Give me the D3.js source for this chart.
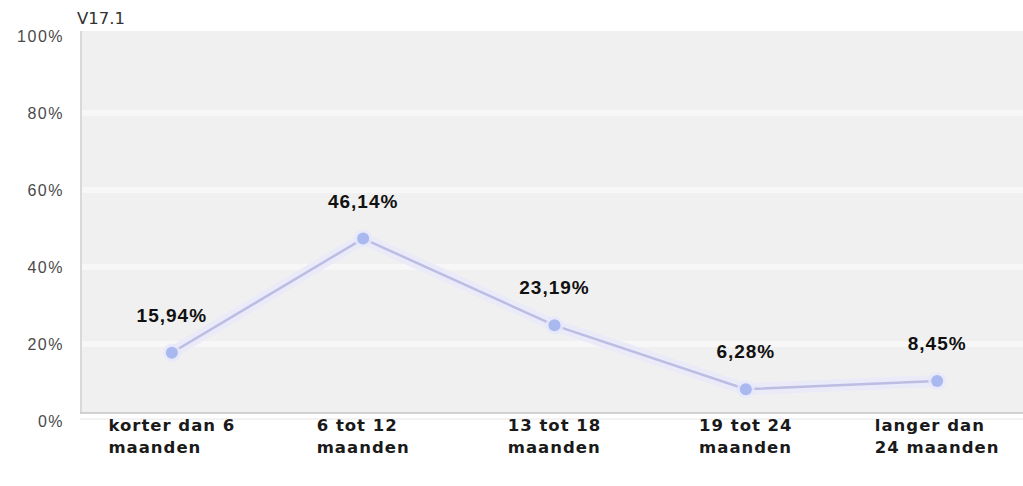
<!DOCTYPE html>
<html>
<head>
<meta charset="utf-8">
<script src="https://cdn.jsdelivr.net/npm/d3@7"></script>
<style>
  body { margin: 0; background: #fff; }
  svg { display: block; }
</style>
</head>
<body>
<svg width="1023" height="486"></svg>
<script>
// chart data
var categories = [
  ["korter dan 6", "maanden"],
  ["6 tot 12", "maanden"],
  ["13 tot 18", "maanden"],
  ["19 tot 24", "maanden"],
  ["langer dan", "24 maanden"]
];
var values = [15.94, 46.14, 23.19, 6.28, 8.45];
var valueLabels = ["15,94%", "46,14%", "23,19%", "6,28%", "8,45%"];
var yTicks = [0, 20, 40, 60, 80, 100];
var title = "V17.1";

var svg = d3.select("svg"),
    width = +svg.attr("width"),
    height = +svg.attr("height");

var plotLeft = 80, plotRight = width, plotTop = 31, plotBottom = 413;

var x = d3.scalePoint()
    .domain(d3.range(values.length))
    .range([plotLeft, plotRight + 6])
    .padding(0.48);

// the marks sit on a slightly different baseline than the gridlines in the original
var y = d3.scaleLinear().domain([0, 100]).range([plotBottom, 35]);
var yGrid = d3.scaleLinear().domain([0, 100]).range([421, 36]);

svg.append("text")
    .attr("x", 77)
    .attr("y", 24)
    .attr("font-family", "DejaVu Sans")
    .attr("font-size", 16.5)
    .attr("fill", "#333")
    .text(title);

// plot background
svg.append("rect")
    .attr("x", plotLeft)
    .attr("y", plotTop)
    .attr("width", plotRight - plotLeft)
    .attr("height", plotBottom - plotTop)
    .attr("fill", "#f0f0f0");

svg.append("line")
    .attr("x1", plotLeft + 1).attr("x2", plotLeft + 1)
    .attr("y1", plotTop).attr("y2", plotBottom)
    .attr("stroke", "#d9d9d9")
    .attr("stroke-width", 2);

// gridlines (lighter bands)
svg.append("g")
    .selectAll("line")
    .data(yTicks.filter(function(d) { return d > 0 && d < 100; }))
    .enter().append("line")
    .attr("x1", plotLeft + 2)
    .attr("x2", plotRight)
    .attr("y1", function(d) { return yGrid(d); })
    .attr("y2", function(d) { return yGrid(d); })
    .attr("stroke", "#f7f7f7")
    .attr("stroke-width", 6);

svg.append("line")
    .attr("x1", plotLeft).attr("x2", plotRight)
    .attr("y1", plotBottom).attr("y2", plotBottom)
    .attr("stroke", "#c4c4c4")
    .attr("stroke-width", 1.5);
svg.append("line")
    .attr("x1", plotLeft).attr("x2", plotRight)
    .attr("y1", plotBottom + 6).attr("y2", plotBottom + 6)
    .attr("stroke", "#e6e6e6")
    .attr("stroke-width", 1);

// y tick labels
svg.append("g")
    .selectAll("text")
    .data(yTicks)
    .enter().append("text")
    .attr("x", 64)
    .attr("y", function(d) { return yGrid(d); })
    .attr("dy", "0.35em")
    .attr("text-anchor", "end")
    .attr("font-family", "Liberation Sans")
    .attr("font-size", 16)
    .attr("letter-spacing", 1.5)
    .attr("fill", "#4a4a4a")
    .text(function(d) { return d + "%"; });

var line = d3.line()
    .x(function(d, i) { return x(i); })
    .y(function(d) { return y(d); });

// soft glow behind the line
svg.append("path")
    .datum(values)
    .attr("d", line)
    .attr("fill", "none")
    .attr("stroke", "#eaeaf8")
    .attr("stroke-width", 12)
    .attr("stroke-linejoin", "round");

svg.append("path")
    .datum(values)
    .attr("d", line)
    .attr("fill", "none")
    .attr("stroke", "#bdbde4")
    .attr("stroke-width", 2.5);

var pts = svg.append("g")
    .selectAll("g")
    .data(values)
    .enter().append("g")
    .attr("transform", function(d, i) { return "translate(" + x(i) + "," + y(d) + ")"; });

pts.append("circle").attr("r", 9).attr("fill", "#e6e9fb").attr("opacity", 0.8);
pts.append("circle").attr("r", 6).attr("fill", "#a9b9ef");

// value labels
svg.append("g")
    .selectAll("text")
    .data(values)
    .enter().append("text")
    .attr("x", function(d, i) { return x(i); })
    .attr("y", function(d) { return y(d) - 31; })
    .attr("text-anchor", "middle")
    .attr("font-family", "Liberation Sans")
    .attr("font-weight", "bold")
    .attr("font-size", 19)
    .attr("letter-spacing", 1)
    .attr("fill", "#111")
    .text(function(d, i) { return valueLabels[i]; });

// category labels: left aligned, block centred under the point
var cat = svg.append("g")
    .selectAll("text")
    .data(categories)
    .enter().append("text")
    .attr("y", 431)
    .attr("font-family", "DejaVu Sans")
    .attr("font-weight", "bold")
    .attr("font-size", 16.5)
    .attr("letter-spacing", 1)
    .attr("fill", "#1a1a1a");

cat.selectAll("tspan")
    .data(function(d) { return d; })
    .enter().append("tspan")
    .attr("dy", function(d, i) { return i === 0 ? 0 : 22; })
    .text(function(d) { return d; });

cat.each(function(d, i) {
    var el = d3.select(this);
    var w = 0;
    el.selectAll("tspan").each(function() { w = Math.max(w, this.getComputedTextLength()); });
    var left = x(i) - w / 2;
    el.selectAll("tspan").attr("x", left);
});
</script>
</body>
</html>
